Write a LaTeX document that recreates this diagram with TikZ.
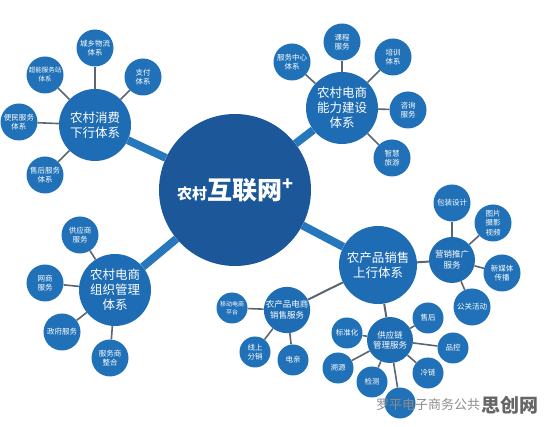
\documentclass[tikz,border=0pt]{standalone}
\usepackage{fontspec}
\newfontfamily\cjk{Noto Sans CJK SC}
\usetikzlibrary{backgrounds}
\definecolor{coreblue}{HTML}{1C5799}
\definecolor{hubblue}{HTML}{1E6CB3}
\definecolor{leafblue}{HTML}{2071B8}
\definecolor{trunkblue}{HTML}{2777BC}
\definecolor{twiggray}{HTML}{5C6670}
\definecolor{markgray}{HTML}{8C8C8C}
\tikzset{
    core/.style={
        circle,
        fill=coreblue,
        text=white,
        minimum size=152pt,
        inner sep=0pt,
        font=\cjk\bfseries,
    },
    hub/.style={
        circle,
        fill=hubblue,
        text=white,
        minimum size=72pt,
        inner sep=0pt,
        align=center,
        font=\cjk\fontsize{12.5}{15}\selectfont,
    },
    subhub/.style={
        hub,
        minimum size=46pt,
        font=\cjk\fontsize{8.5}{10.5}\selectfont,
    },
    leaf/.style={
        circle,
        fill=leafblue,
        text=white,
        minimum size=37pt,
        inner sep=0pt,
        align=center,
        font=\cjk\fontsize{7.5}{9.5}\selectfont,
    },
    twigleaf/.style={
        leaf,
        minimum size=31pt,
    },
    trunk/.style={draw=trunkblue, line width=8pt},
    branch/.style={draw=twiggray, line width=2pt},
    twig/.style={draw=twiggray, line width=1.6pt},
}

\begin{document}
\begin{tikzpicture}[x=1pt, y=-1pt]
      \useasboundingbox (0,0) rectangle (546,427);

      \node[core] (core) at (235,190) {{\fontsize{15}{18}\selectfont 农村}{\fontsize{25}{30}\selectfont 互联网}\raisebox{9pt}{\fontsize{18}{20}\selectfont +}};

      % consumer side
      \node[hub] (down) at (95,125) {农村消费\\下行体系};
      \node[leaf] (logi) at (95,48) {城乡物流\\体系};
      \node[leaf] (pay) at (143,77) {支付\\体系};
      \node[leaf, font=\cjk\fontsize{6.5}{9}\selectfont] (station) at (45,75) {超能服务站\\体系};
      \node[leaf] (civil) at (19,122) {便民服务\\体系};
      \node[leaf] (after) at (45,175) {售后服务\\体系};

      % capacity building
      \node[hub] (build) at (342,108) {农村电商\\能力建设\\体系};
      \node[leaf] (centre) at (292,62) {服务中心\\体系};
      \node[leaf] (course) at (342,42) {课程\\服务};
      \node[leaf] (train) at (393,57) {培训\\体系};
      \node[leaf] (consult) at (408,110) {咨询\\服务};
      \node[leaf] (tour) at (392,158) {智慧\\旅游};

      % organisation
      \node[hub] (org) at (115,290) {农村电商\\组织管理\\体系};
      \node[leaf] (supplier) at (80,235) {供应商\\服务};
      \node[leaf] (netshop) at (45,283) {网商\\服务};
      \node[leaf] (gov) at (62,332) {政府服务};
      \node[leaf] (merge) at (110,358) {服务商\\整合};

      % farm produce upward
      \node[hub, minimum size=78pt] (up) at (378,265) {农产品销售\\上行体系};

      \node[subhub] (promo) at (452,260) {营销推广\\服务};
      \node[leaf] (pack) at (452,203) {包装设计};
      \node[leaf] (photo) at (493,223) {图片\\摄影\\视频};
      \node[leaf] (media) at (502,273) {新媒体\\传播};
      \node[leaf] (pr) at (472,307) {公关活动};

      \node[subhub] (sales) at (287,310) {农产品电商\\销售服务};
      \node[twigleaf, font=\cjk\fontsize{6}{8}\selectfont] (mobile) at (232,308) {移动电商\\平台};
      \node[twigleaf] (resell) at (255,352) {线上\\分销};
      \node[twigleaf] (estore) at (293,360) {电亲};

      \node[subhub] (chain) at (390,340) {供应链\\管理服务};
      \node[twigleaf] (norm) at (347,333) {标准化};
      \node[twigleaf] (service) at (428,318) {售后};
      \node[twigleaf] (quality) at (453,348) {品控};
      \node[twigleaf] (cold) at (428,373) {冷链};
      \node[twigleaf] (hidden) at (400,403) {};
      \node[twigleaf] (check) at (372,382) {检测};
      \node[twigleaf] (trace) at (338,368) {溯源};

      \node[text=markgray, font=\cjk\fontsize{13}{15}\selectfont] (mark) at (428,405) {罗平电子商务公共};
      \node[text=black!60, font=\cjk\bfseries\fontsize{19}{21}\selectfont] (site) at (510,405) {思创网};

      \begin{pgfonlayer}{background}
      \draw[trunk] (core) -- (down);
      \draw[trunk] (core) -- (build);
      \draw[trunk] (core) -- (org);
      \draw[trunk] (core) -- (up);

      \draw[twig] (down) -- (logi);
      \draw[twig] (down) -- (pay);
      \draw[twig] (down) -- (station);
      \draw[twig] (down) -- (civil);
      \draw[twig] (down) -- (after);

      \draw[twig] (build) -- (centre);
      \draw[twig] (build) -- (course);
      \draw[twig] (build) -- (train);
      \draw[twig] (build) -- (consult);
      \draw[twig] (build) -- (tour);

      \draw[twig] (org) -- (supplier);
      \draw[twig] (org) -- (netshop);
      \draw[twig] (org) -- (gov);
      \draw[twig] (org) -- (merge);

      \draw[branch] (up) -- (promo);
      \draw[branch] (up) -- (sales);
      \draw[branch] (up) -- (chain);

      \draw[twig] (promo) -- (pack);
      \draw[twig] (promo) -- (photo);
      \draw[twig] (promo) -- (media);
      \draw[twig] (promo) -- (pr);

      \draw[twig] (sales) -- (mobile);
      \draw[twig] (sales) -- (resell);
      \draw[twig] (sales) -- (estore);

      \draw[twig] (chain) -- (norm);
      \draw[twig] (chain) -- (service);
      \draw[twig] (chain) -- (quality);
      \draw[twig] (chain) -- (cold);
      \draw[twig] (chain) -- (hidden);
      \draw[twig] (chain) -- (check);
      \draw[twig] (chain) -- (trace);
      \end{pgfonlayer}

    \end{tikzpicture}
\end{document}
